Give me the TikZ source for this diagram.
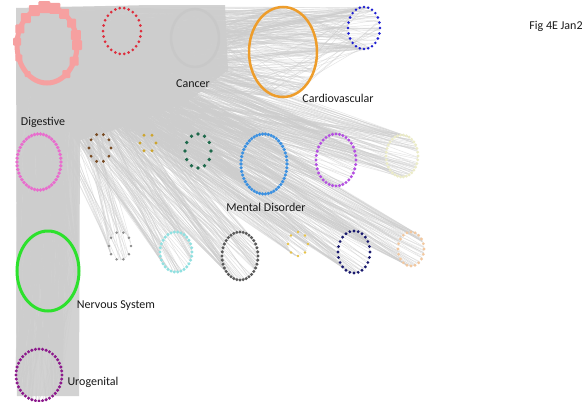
\documentclass[tikz,border=0pt]{standalone}
\usepackage{fontspec}
\setmainfont{Carlito}
\usetikzlibrary{calc}
\definecolor{cHub}{RGB}{246,160,160}
\definecolor{cRed}{RGB}{222,45,60}
\definecolor{cCancer}{RGB}{200,200,200}
\definecolor{cOrange}{RGB}{238,157,43}
\definecolor{cBlue}{RGB}{30,30,210}
\definecolor{cDig}{RGB}{232,110,205}
\definecolor{cBrown}{RGB}{120,75,35}
\definecolor{cGold}{RGB}{205,165,45}
\definecolor{cDGreen}{RGB}{30,105,75}
\definecolor{cMental}{RGB}{60,145,225}
\definecolor{cPurple}{RGB}{180,80,225}
\definecolor{cCream}{RGB}{236,236,200}
\definecolor{cNerv}{RGB}{45,225,45}
\definecolor{cGSmall}{RGB}{140,140,140}
\definecolor{cCyan}{RGB}{145,225,225}
\definecolor{cDGray}{RGB}{90,90,90}
\definecolor{cGoldB}{RGB}{232,195,70}
\definecolor{cNavy}{RGB}{25,25,110}
\definecolor{cPeach}{RGB}{242,200,160}
\definecolor{cUro}{RGB}{140,25,140}
\definecolor{cEdge}{RGB}{205,205,205}
\definecolor{cMass}{RGB}{210,210,210}
\tikzset{
  edge/.style={draw=cEdge,line width=0.45pt,opacity=0.55},
  lbl/.style={font=\fontsize{12}{14}\selectfont,text=black!90,inner sep=0pt},
  ringc/.style={inner sep=0pt,minimum size=0pt},
}
% ring: name, x, y, rx, ry
\newcommand\ringat[5]{%
  \expandafter\gdef\csname ringrx#1\endcsname{#4}%
  \expandafter\gdef\csname ringry#1\endcsname{#5}%
  \node[ringc] (#1) at (#2,#3) {};}
\newcommand\edgebundle[3]{%
  \foreach \i in {1,...,#3}{%
    \pgfmathsetmacro\aa{360*rnd}%
    \pgfmathsetmacro\bb{360*rnd}%
    \pgfmathsetmacro\xa{\csname ringrx#1\endcsname*cos(\aa)}%
    \pgfmathsetmacro\ya{\csname ringry#1\endcsname*sin(\aa)}%
    \pgfmathsetmacro\xb{\csname ringrx#2\endcsname*cos(\bb)}%
    \pgfmathsetmacro\yb{\csname ringry#2\endcsname*sin(\bb)}%
    \draw[edge] ($(#1)+(\xa,\ya)$) -- ($(#2)+(\xb,\yb)$);
  }}
\newcommand\dotring[4]{% node, count, colour, radius
  \foreach \k in {1,...,#2}{%
    \pgfmathsetmacro\cc{360/#2*\k}%
    \pgfmathsetmacro\xa{\csname ringrx#1\endcsname*cos(\cc)}%
    \pgfmathsetmacro\ya{\csname ringry#1\endcsname*sin(\cc)}%
    \fill[color=#3] ($(#1)+(\xa,\ya)$) circle (#4);
  }}
\newcommand\solidring[3]{% node, colour, width
  \draw[color=#2,line width=#3] (#1) ellipse ({\csname ringrx#1\endcsname pt} and {\csname ringry#1\endcsname pt});}
\begin{document}
\begin{tikzpicture}[x=1pt,y=-1pt]
\useasboundingbox (0,0) rectangle (582,402);
\fill[white] (0,0) rectangle (582,402);
\pgfmathsetseed{7}
% ring positions
\ringat{hub}{47}{45}{30}{38}
\ringat{red}{122}{31}{19}{23}
\ringat{cancer}{195}{38}{24}{29}
\ringat{cardio}{283}{52}{34}{45}
\ringat{blue}{364}{28}{16}{21}
\ringat{dig}{39}{162}{22}{28}
\ringat{brown}{100}{148}{11}{14}
\ringat{gold}{148}{143}{8}{9}
\ringat{dgreen}{198}{151}{13}{17}
\ringat{mental}{264}{164}{23}{30}
\ringat{purple}{336}{160}{20}{26}
\ringat{cream}{402}{156}{16}{21}
\ringat{nerv}{48}{271}{31}{40}
\ringat{gsmall}{120}{246}{11}{14}
\ringat{cyan}{176}{252}{16}{20}
\ringat{dgray}{240}{256}{18}{24}
\ringat{gold2}{298}{244}{10}{12}
\ringat{navy}{354}{252}{16}{21}
\ringat{peach}{411}{249}{13}{17}
\ringat{uro}{39}{375}{23}{26}
% dense mass of overlapping edges near the hub
\fill[cMass] (16,8) -- (150,5) -- (225,5) -- (228,70) -- (190,100) -- (120,128) -- (80,140) -- (79,396) -- (17,396) -- cycle;
% edges
\edgebundle{hub}{red}{90}
\edgebundle{hub}{cancer}{130}
\edgebundle{hub}{cardio}{200}
\edgebundle{hub}{blue}{110}
\edgebundle{hub}{dig}{100}
\edgebundle{hub}{brown}{60}
\edgebundle{hub}{gold}{40}
\edgebundle{hub}{dgreen}{70}
\edgebundle{hub}{mental}{140}
\edgebundle{hub}{purple}{120}
\edgebundle{hub}{cream}{100}
\edgebundle{hub}{nerv}{110}
\edgebundle{hub}{gsmall}{40}
\edgebundle{hub}{cyan}{80}
\edgebundle{hub}{dgray}{100}
\edgebundle{hub}{gold2}{50}
\edgebundle{hub}{navy}{90}
\edgebundle{hub}{peach}{80}
\edgebundle{hub}{uro}{120}
\edgebundle{red}{cancer}{30}
\edgebundle{cancer}{cardio}{40}
\edgebundle{cardio}{blue}{30}
\edgebundle{dig}{nerv}{50}
\edgebundle{nerv}{uro}{60}
\edgebundle{dig}{uro}{40}
% rings
\solidring{hub}{cHub}{5pt}
\foreach \ang/\s in {0/10,25/9,50/8,130/6,160/7,185/8,205/9,225/10,245/11,265/12,285/11,305/10,325/9,345/10}{
  \pgfmathsetmacro\xa{30*cos(\ang)}
  \pgfmathsetmacro\ya{38*sin(\ang)}
  \fill[color=cHub,rounded corners=1pt]
    ($(hub)+(\xa,\ya)+(-\s/2,-\s/2)$) rectangle +(\s,\s);
}
\dotring{red}{26}{cRed}{1.5pt}
\solidring{cancer}{cCancer}{2.5pt}
\solidring{cardio}{cOrange}{2.5pt}
\dotring{blue}{24}{cBlue}{1.4pt}
\dotring{dig}{46}{cDig}{1.9pt}
\dotring{brown}{10}{cBrown}{1.6pt}
\dotring{gold}{6}{cGold}{1.6pt}
\dotring{dgreen}{12}{cDGreen}{1.8pt}
\dotring{mental}{50}{cMental}{1.8pt}
\dotring{purple}{36}{cPurple}{1.7pt}
\dotring{cream}{34}{cCream}{1.6pt}
\solidring{nerv}{cNerv}{3pt}
\dotring{gsmall}{10}{cGSmall}{1.4pt}
\dotring{cyan}{30}{cCyan}{1.7pt}
\dotring{dgray}{36}{cDGray}{1.7pt}
\dotring{gold2}{8}{cGoldB}{1.4pt}
\dotring{navy}{24}{cNavy}{1.6pt}
\dotring{peach}{20}{cPeach}{1.6pt}
\dotring{uro}{40}{cUro}{1.7pt}
% labels
\node[lbl] (lcancer) at (193,84) {Cancer};
\node[lbl] (lcardio) at (338,98) {Cardiovascular};
\node[lbl] (ldig) at (43,122) {Digestive};
\node[lbl] (lmental) at (266,207) {Mental Disorder};
\node[lbl] (lnerv) at (116,306) {Nervous System};
\node[lbl] (luro) at (93,382) {Urogenital};
\node[lbl] (fig) at (556,26) {Fig 4E Jan2};
\end{tikzpicture}
\end{document}
